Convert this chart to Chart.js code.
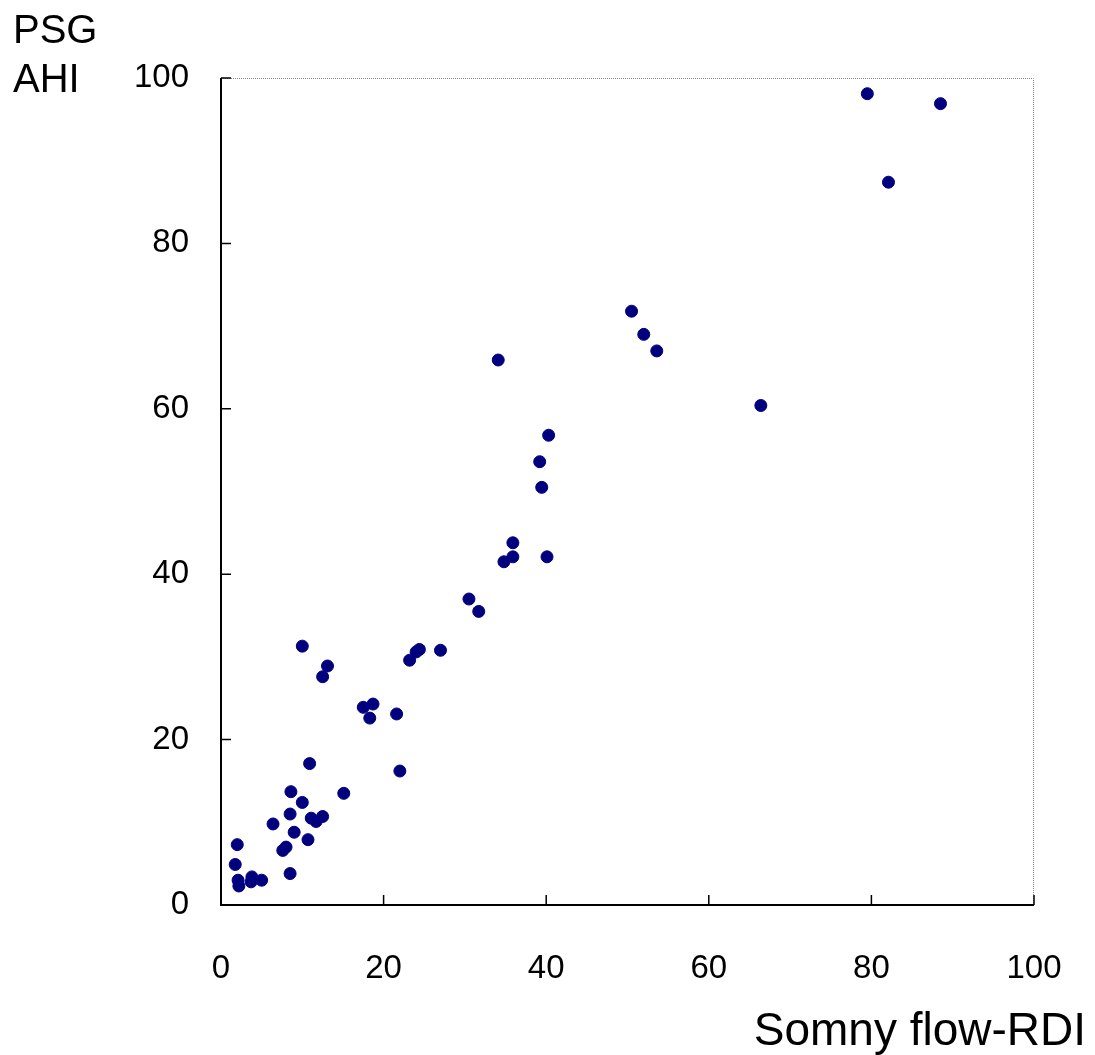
<!DOCTYPE html>
<html>
<head>
<meta charset="utf-8">
<script src="https://cdn.jsdelivr.net/npm/chart.js@4/dist/chart.umd.min.js"></script>
<style>
  html, body { margin: 0; padding: 0; background: #fff; }
  #wrap { width: 1095px; height: 1055px; }
</style>
</head>
<body>
<div id="wrap"><canvas id="myChart" width="1095" height="1055"></canvas></div>
<script>
// Somny flow-RDI (x) vs PSG AHI (y), one entry per patient
var rdiValues = [2.0, 1.75, 2.1, 2.2, 3.8, 3.7, 5.0, 7.6, 8.0, 6.4,
                 8.5, 9.0, 8.5, 10.7, 10.0, 8.6, 10.9, 15.1, 11.1, 11.7,
                 12.5, 10.0, 13.1, 12.5, 17.5, 18.7, 18.3, 21.6, 22.0, 23.2,
                 24.0, 24.4, 27.0, 30.5, 31.7, 34.8, 35.9, 35.9, 40.1, 39.45,
                 39.2, 40.3, 34.1, 50.5, 52.0, 53.6, 66.4, 79.5, 82.1, 88.5];
var ahiValues = [7.3, 4.9, 3.0, 2.3, 3.4, 2.8, 3.0, 6.6, 7.0, 9.8,
                 11.0, 8.8, 3.8, 7.9, 12.4, 13.7, 17.1, 13.5, 10.5, 10.1,
                 10.7, 31.3, 28.9, 27.6, 23.9, 24.3, 22.6, 23.1, 16.2, 29.6,
                 30.6, 30.9, 30.8, 37.0, 35.5, 41.5, 42.1, 43.8, 42.1, 50.5,
                 53.6, 56.8, 65.9, 71.8, 69.0, 67.0, 60.4, 98.1, 87.4, 96.9];
var axisTicks = [0, 20, 40, 60, 80, 100];

var points = [];
for (var i = 0; i < rdiValues.length; i++) {
    points.push({ x: rdiValues[i], y: ahiValues[i] });
}

// frame: solid left/bottom, dotted top/right, inward tick marks
var framePlugin = {
    id: 'frame',
    afterDraw: function (chart) {
        var ctx = chart.ctx;
        var a = chart.chartArea;
        var xs = chart.scales.x, ys = chart.scales.y;
        ctx.save();
        ctx.strokeStyle = '#888';
        ctx.lineWidth = 1;
        ctx.setLineDash([1, 1]);
        ctx.beginPath();
        ctx.moveTo(a.left, a.top + 0.5);
        ctx.lineTo(a.right - 0.5, a.top + 0.5);
        ctx.lineTo(a.right - 0.5, a.bottom);
        ctx.stroke();
        ctx.setLineDash([]);
        ctx.strokeStyle = '#000';
        ctx.lineWidth = 2;
        ctx.beginPath();
        ctx.moveTo(a.left, a.top);
        ctx.lineTo(a.left, a.bottom);
        ctx.lineTo(a.right, a.bottom);
        ctx.stroke();
        ctx.lineWidth = 1.5;
        axisTicks.forEach(function (v) {
            var px = xs.getPixelForValue(v);
            var py = ys.getPixelForValue(v);
            ctx.beginPath();
            ctx.moveTo(px, a.bottom);
            ctx.lineTo(px, a.bottom - 10);
            ctx.moveTo(a.left, py);
            ctx.lineTo(a.left + 10, py);
            ctx.stroke();
        });
        // axis titles
        ctx.fillStyle = '#000';
        ctx.font = '40px "Liberation Sans", Arial, sans-serif';
        ctx.textBaseline = 'alphabetic';
        ctx.textAlign = 'left';
        ctx.fillText('PSG', 13, 43);
        ctx.fillText('AHI', 13, 92);
        ctx.font = '46px "Liberation Sans", Arial, sans-serif';
        ctx.textAlign = 'right';
        ctx.fillText('Somny flow-RDI', 1086, 1045);
        ctx.restore();
    }
};

var tickFont = { family: '"Liberation Sans", Arial, sans-serif', size: 33 };

var ctxChart = document.getElementById('myChart').getContext('2d');
var myChart = new Chart(ctxChart, {
    type: 'scatter',
    data: {
        datasets: [{
            label: 'AHI',
            data: points,
            pointStyle: 'circle',
            pointRadius: 6,
            pointBackgroundColor: '#00007f',
            pointBorderColor: '#00007f',
            pointBorderWidth: 1
        }]
    },
    options: {
        responsive: false,
        animation: false,
        layout: {
            padding: { top: 78, right: 61, left: 0, bottom: 0 }
        },
        plugins: {
            legend: { display: false },
            tooltip: { enabled: false }
        },
        scales: {
            x: {
                type: 'linear',
                min: 0,
                max: 100,
                afterBuildTicks: function (scale) {
                    scale.ticks = axisTicks.map(function (v) { return { value: v }; });
                },
                afterFit: function (scale) {
                    scale.height = 150;
                    scale.paddingLeft = 0;
                    scale.paddingRight = 0;
                },
                grid: { display: false, drawTicks: false },
                border: { display: false },
                ticks: {
                    padding: 44,
                    color: '#000',
                    maxRotation: 0,
                    font: tickFont
                }
            },
            y: {
                type: 'linear',
                min: 0,
                max: 100,
                afterBuildTicks: function (scale) {
                    scale.ticks = axisTicks.map(function (v) { return { value: v }; });
                },
                afterFit: function (scale) {
                    scale.width = 221;
                    scale.paddingTop = 0;
                    scale.paddingBottom = 0;
                },
                grid: { display: false, drawTicks: false },
                border: { display: false },
                ticks: {
                    padding: 32,
                    color: '#000',
                    font: tickFont
                }
            }
        }
    },
    plugins: [framePlugin]
});
</script>
</body>
</html>
